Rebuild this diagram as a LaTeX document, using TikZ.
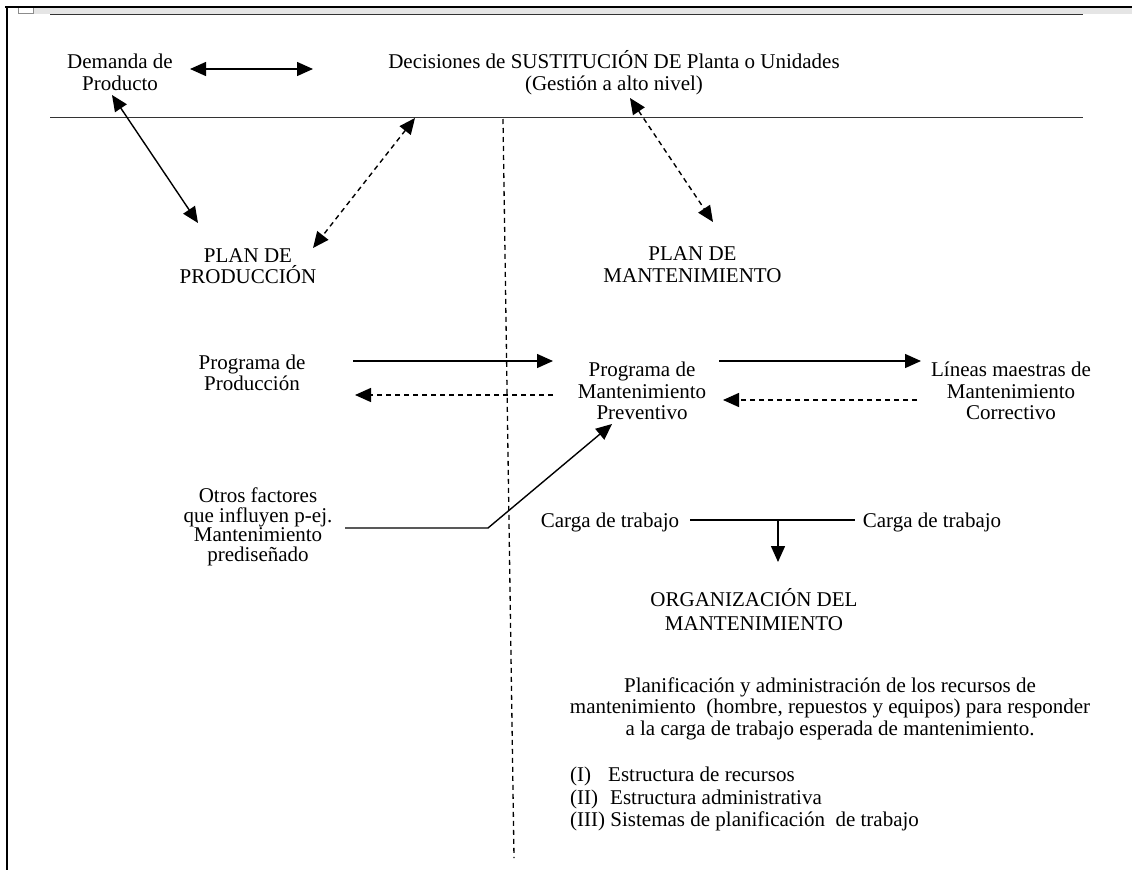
\documentclass[tikz,border=0pt]{standalone}
\usepackage{fontspec}
\setmainfont{Liberation Serif}
\usetikzlibrary{arrows.meta}
\begin{document}
\begin{tikzpicture}[x=1pt,y=-1pt,
  txt/.style={align=center, inner sep=0pt, font=\fontsize{21}{21.5}\selectfont},
  rule/.style={line width=1.7pt, draw=black!80},
  tip/.style={line width=1.4pt, -{Triangle[length=16pt,width=14pt]}},
  bitip/.style={line width=1.4pt, {Triangle[length=16pt,width=14pt]}-{Triangle[length=16pt,width=14pt]}},
  dsh/.style={dash pattern=on 5pt off 4pt}
]
\useasboundingbox (0,0) rectangle (1132,870);

% page edge
\fill[black!10] (33,8) rectangle (1132,14);
\draw[black!45, line width=0.8pt] (18,7) rectangle (33,13);
\draw[line width=2pt] (5,7) -- (1132,7);
\draw[line width=2pt] (7,7) -- (7,870);

% horizontal rules and the dashed divider
\draw[rule] (50,14.5) -- (1083,14.5);
\draw[rule] (50,117.5) -- (1083,117.5);
\draw[line width=1.3pt, dsh] (503,119) -- (514,858);

% texts
\node[txt] (dem) at (120,72.2) {Demanda de\\Producto};
\node[txt] (dec) at (614,72.6) {Decisiones de SUSTITUCIÓN DE Planta o Unidades\\(Gestión a alto nivel)};
\node[txt] (pprod) at (248,266) {PLAN DE\\PRODUCCIÓN};
\node[txt] (pmant) at (692.5,264.6) {PLAN DE\\MANTENIMIENTO};
\node[txt] (prog) at (252,373) {Programa de\\Producción};
\node[txt] (pmp) at (642,391) {Programa de\\Mantenimiento\\Preventivo};
\node[txt] (lin) at (1011,391) {Líneas maestras de\\Mantenimiento\\Correctivo};
\node[txt, font=\fontsize{21}{19.5}\selectfont] (otros) at (258,527)
  {Otros factores\\que influyen p-ej.\\Mantenimiento\\prediseñado};
\node[txt, anchor=base] (cl) at (610,527) {Carga de trabajo};
\node[txt, anchor=base] (cr) at (932,527) {Carga de trabajo};
\node[txt, font=\fontsize{21}{24}\selectfont] (org) at (754,610) {ORGANIZACIÓN DEL\\MANTENIMIENTO};
\node[txt] (plan) at (830,708.7)
  {Planificación y administración de los recursos de\\
   mantenimiento\ \ (hombre, repuestos y equipos) para responder\\
   a la carga de trabajo esperada de mantenimiento.};
\node[txt, align=left, anchor=north west, font=\fontsize{21}{22.5}\selectfont] (lista) at (570,767)
  {(I)\hspace{17pt}Estructura de recursos\\
   (II)\hspace{12pt}Estructura administrativa\\
   (III) Sistemas de planificación\ \ de trabajo};

% connector ends
\coordinate (dem-r) at (190,69);
\coordinate (dec-l) at (313,69);
\coordinate (dem-b) at (112,95);
\coordinate (pprod-t) at (198,223);
\coordinate (rule-l) at (415,118);
\coordinate (pprod-r) at (313,248);
\coordinate (dec-b) at (630,98);
\coordinate (pmant-t) at (713,222);
\coordinate (prog-r1) at (353,361);
\coordinate (pmp-l1) at (553,361);
\coordinate (pmp-l2) at (553,395);
\coordinate (prog-r2) at (355,395);
\coordinate (pmp-r1) at (719,361);
\coordinate (lin-l1) at (921,361);
\coordinate (lin-l2) at (917,400);
\coordinate (pmp-r2) at (723,400);
\coordinate (otros-r) at (345,528);
\coordinate (bend) at (488,528);
\coordinate (pmp-b) at (612,424);
\coordinate (cl-r) at (690,520);
\coordinate (cr-l) at (855,520);
\coordinate (join) at (778,520);
\coordinate (org-t) at (778,562);

% connectors
\draw[bitip] (dem-r) -- (dec-l);
\draw[bitip] (dem-b) -- (pprod-t);
\draw[bitip, dsh] (rule-l) -- (pprod-r);
\draw[bitip, dsh] (dec-b) -- (pmant-t);
\draw[tip] (prog-r1) -- (pmp-l1);
\draw[tip, dsh] (pmp-l2) -- (prog-r2);
\draw[tip] (pmp-r1) -- (lin-l1);
\draw[tip, dsh] (lin-l2) -- (pmp-r2);
\draw[tip] (otros-r) -- (bend) -- (pmp-b);
\draw[line width=1.3pt] (cl-r) -- (cr-l);
\draw[tip] (join) -- (org-t);
\end{tikzpicture}
\end{document}
